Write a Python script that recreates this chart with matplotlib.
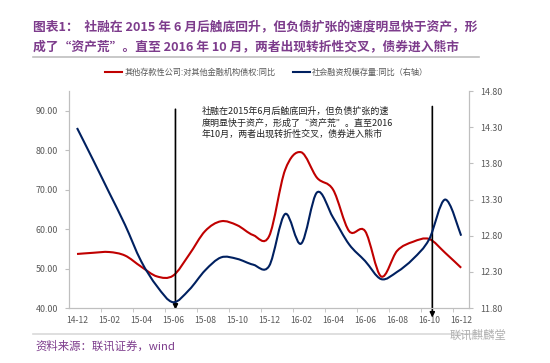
import numpy as np
import matplotlib.pyplot as plt
from matplotlib.path import Path
from matplotlib.patches import PathPatch
from matplotlib.lines import Line2D

plt.rcParams['font.family'] = ['Noto Sans CJK SC', 'DejaVu Sans']

# monthly data, 2014-12 .. 2016-12
months = ['14-12', '15-01', '15-02', '15-03', '15-04', '15-05', '15-06', '15-07',
          '15-08', '15-09', '15-10', '15-11', '15-12', '16-01', '16-02', '16-03',
          '16-04', '16-05', '16-06', '16-07', '16-08', '16-09', '16-10', '16-11', '16-12']
claims_yoy = [53.7, 54.0, 54.2, 53.3, 50.5, 48.0, 48.2, 53.5, 59.5, 62.0, 61.0, 58.5, 58.2,
              75.0, 79.5, 73.0, 70.0, 59.5, 59.5, 48.0, 54.5, 56.8, 57.5, 54.0, 50.2]
tsf_yoy = [14.29, 13.85, 13.40, 12.95, 12.45, 12.10, 11.88, 12.05, 12.32, 12.50, 12.48, 12.40,
           12.38, 13.10, 12.69, 13.40, 13.05, 12.68, 12.45, 12.20, 12.30, 12.48, 12.75, 13.30, 12.80]

red_label = '其他存款性公司:对其他金融机构债权:同比'
blue_label = '社会融资规模存量:同比（右轴）'

RED = '#C00000'
NAVY = '#002060'
GREY = '#595959'
PURPLE = '#7D3C8C'


def smooth_path(xs, ys):
    # excel style smoothed line: bezier segments through every point
    pts = np.column_stack([xs, ys]).astype(float)
    ext = np.vstack([pts[0], pts, pts[-1]])
    verts = [pts[0]]
    codes = [Path.MOVETO]
    for i in range(len(pts) - 1):
        p0, p1, p2, p3 = ext[i], ext[i + 1], ext[i + 2], ext[i + 3]
        verts += [p1 + (p2 - p0) / 6, p2 - (p3 - p1) / 6, p2]
        codes += [Path.CURVE4] * 3
    return Path(verts, codes)


fig = plt.figure(figsize=(5.5, 3.63), dpi=100)
ax = fig.add_axes([0.1255, 0.1515, 0.7275, 0.5975])
ax2 = ax.twinx()

x = np.arange(len(months))
ax.add_patch(PathPatch(smooth_path(x, claims_yoy), fill=False, edgecolor=RED, lw=1.5, zorder=3))
ax2.add_patch(PathPatch(smooth_path(x, tsf_yoy), fill=False, edgecolor=NAVY, lw=1.5, zorder=3))

ax.set_xlim(-0.5, len(months) - 0.5)
ax.set_ylim(40, 95)
ax.set_yticks(np.arange(40, 91, 10))
ax.set_yticklabels(['%.2f' % v for v in np.arange(40, 91, 10)])
ax2.set_ylim(11.8, 14.8)
ax2.set_yticks(np.arange(11.8, 14.81, 0.5))
ax2.set_yticklabels(['%.2f' % v for v in np.arange(11.8, 14.81, 0.5)])

ax.set_xticks(x[::2])
ax.set_xticklabels(months[::2])
ax.set_xticks(np.arange(1.5, len(months) - 1, 2), minor=True)
ax.tick_params(axis='x', which='major', length=0, pad=6, labelsize=6.2, labelcolor=GREY)
ax.tick_params(axis='x', which='minor', length=3, color='#BFBFBF')
ax.tick_params(axis='y', length=3, color='#BFBFBF', labelsize=6.4, labelcolor=GREY, pad=5)
ax2.tick_params(axis='y', length=3, color='#BFBFBF', labelsize=6.4, labelcolor=GREY, pad=5)

for a in (ax, ax2):
    a.spines['top'].set_visible(False)
    for s in ('left', 'right', 'bottom'):
        a.spines[s].set_color('#BFBFBF')
        a.spines[s].set_linewidth(0.8)

# the two vertical arrows
for xa, ytop, ybot in [(6.15, 90.4, 39.6), (22.2, 91.1, 37.6)]:
    ax.annotate('', xy=(xa, ybot), xytext=(xa, ytop), annotation_clip=False,
                arrowprops=dict(arrowstyle='-|>', color='black', lw=1.2,
                                mutation_scale=7, shrinkA=0, shrinkB=0), zorder=5)

fig.text(0.367, 1 - 107 / 363,
         '社融在2015年6月后触底回升，但负债扩张的速\n'
         '度明显快于资产，形成了“资产荒”。直至2016\n'
         '年10月，两者出现转折性交叉，债券进入熊市',
         fontsize=6.5, va='top', ha='left', color='#222222', linespacing=1.3)

handles = [Line2D([], [], color=RED, lw=1.5), Line2D([], [], color=NAVY, lw=1.5)]
leg = fig.legend(handles, [red_label, blue_label], loc='center',
                 bbox_to_anchor=(0.485, 1 - 72 / 363), ncol=2, frameon=False,
                 fontsize=5.9, handlelength=2.0, handletextpad=0.3, columnspacing=2.2)
for t in leg.get_texts():
    t.set_color(GREY)

# title block
fig.text(0.06, 1 - 27 / 363,
         '图表1：  社融在 2015 年 6 月后触底回升，但负债扩张的速度明显快于资产，形',
         fontsize=9.2, weight='bold', color=PURPLE, va='center')
fig.text(0.06, 1 - 47 / 363,
         '成了“资产荒”。直至 2016 年 10 月，两者出现转折性交叉，债券进入熊市',
         fontsize=9.2, weight='bold', color=PURPLE, va='center')
fig.add_artist(Line2D([0.06, 0.87], [1 - 57 / 363] * 2, color='#BFBFBF', lw=1.2))
fig.add_artist(Line2D([0.06, 0.87], [1 - 334 / 363] * 2, color='#D9D9D9', lw=1.2))

fig.text(0.064, 1 - 346 / 363, '资料来源：联讯证券，wind', fontsize=8.2,
         style='italic', color=PURPLE, va='center')
fig.text(0.818, 1 - 335 / 363, '联讯麒麟堂', fontsize=8.2, color='#B0B0B0', va='center')

fig.savefig('out.png', dpi=100, facecolor='white')
